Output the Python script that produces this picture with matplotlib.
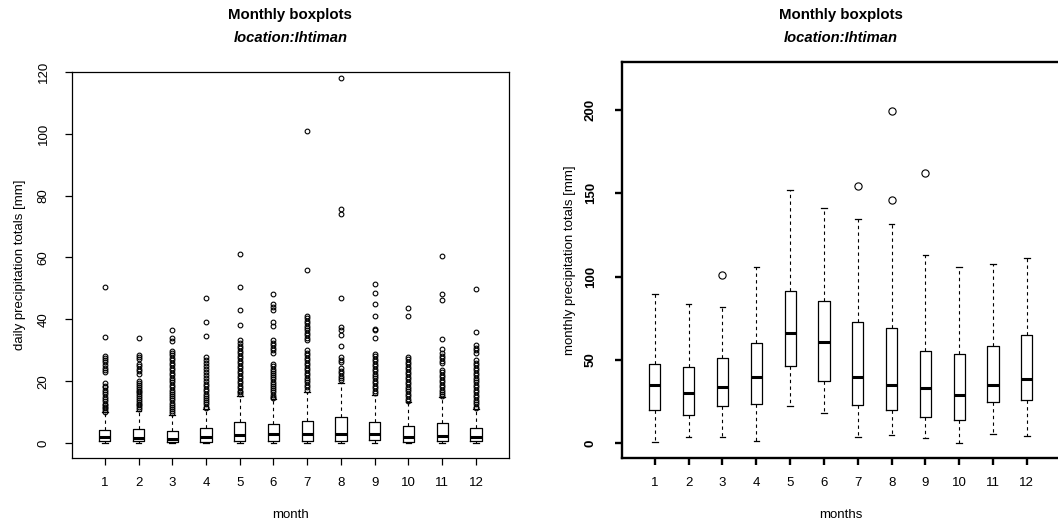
import matplotlib.pyplot as plt

plt.rcParams['font.family'] = ['Liberation Sans', 'DejaVu Sans']

months = list(range(1, 13))

# daily precipitation totals [mm], box statistics per month
daily_q1 = [0.6, 0.6, 0.5, 0.5, 0.8, 0.6, 0.8, 0.8, 0.9, 0.5, 0.6, 0.6]
daily_med = [2.0, 1.7, 1.5, 2.0, 2.6, 2.8, 3.0, 3.1, 2.8, 2.0, 2.4, 2.0]
daily_q3 = [4.4, 4.6, 4.0, 4.8, 6.7, 6.1, 7.2, 8.5, 6.9, 5.7, 6.5, 4.9]
daily_lo = [0.1] * 12
daily_hi = [10.0, 10.5, 9.2, 11.0, 15.3, 14.2, 16.6, 19.3, 15.5, 13.3, 15.0, 11.1]
daily_out = [
    [50.6, 34.3, 28.1, 27.5, 27.0, 26.2, 25.2, 24.4, 23.5, 23.0, 19.3, 18.6,
     18.0, 17.3, 16.5, 15.8, 15.0, 14.2, 13.5, 12.8, 12.3, 11.7, 11.2, 10.7, 10.2],
    [34.1, 28.4, 27.8, 27.2, 25.6, 25.0, 24.1, 23.3, 22.4, 20.0, 19.4, 18.8,
     18.2, 17.6, 17.0, 16.4, 15.8, 15.2, 14.6, 14.0, 13.4, 12.8, 12.2, 11.6, 11.0],
    [36.6, 34.0, 33.0, 29.9, 29.2, 28.5, 27.6, 26.8, 26.0, 25.2, 24.4, 23.6,
     22.8, 22.0, 21.2, 20.4, 19.6, 18.8, 18.0, 17.3, 16.6, 15.9, 15.2, 14.5,
     13.8, 13.1, 12.4, 11.7, 11.0, 10.4, 9.8],
    [47.0, 39.1, 34.5, 27.7, 27.0, 25.8, 24.8, 24.0, 23.0, 22.0, 21.0, 20.0,
     19.2, 18.4, 17.6, 16.8, 16.0, 15.3, 14.6, 13.9, 13.2, 12.5, 11.8, 11.4],
    [61.0, 50.5, 42.9, 38.1, 33.3, 32.5, 31.5, 30.6, 29.8, 29.0, 28.2, 27.4,
     26.6, 25.8, 25.0, 24.2, 23.4, 22.6, 21.8, 21.0, 20.2, 19.4, 18.6, 17.8,
     17.0, 16.4, 15.8],
    [48.1, 44.8, 44.0, 42.9, 39.1, 37.8, 33.2, 32.4, 31.6, 30.8, 30.0, 29.2,
     25.5, 24.8, 24.1, 23.4, 22.7, 22.0, 21.3, 20.6, 19.9, 19.2, 18.5, 17.8,
     17.1, 16.4, 15.7, 15.0, 14.5],
    [101.0, 56.0, 41.2, 40.4, 39.6, 38.8, 38.0, 37.2, 36.4, 35.6, 34.8, 34.0,
     33.2, 30.0, 29.2, 28.4, 27.6, 26.8, 26.0, 25.2, 24.4, 23.6, 22.8, 22.0,
     21.2, 20.4, 19.6, 18.8, 18.0, 17.2],
    [118.1, 75.5, 74.1, 47.0, 37.5, 36.4, 35.0, 31.3, 27.8, 27.0, 26.2, 24.2,
     23.4, 22.6, 21.8, 21.0, 20.4],
    [51.5, 48.5, 45.1, 41.1, 37.0, 36.4, 34.1, 28.9, 28.1, 27.3, 26.5, 25.7,
     24.9, 24.1, 23.3, 22.5, 21.7, 20.9, 20.1, 19.3, 18.5, 17.7, 16.9, 16.2],
    [43.7, 41.2, 27.8, 27.1, 26.3, 25.5, 24.7, 23.9, 23.1, 22.3, 21.5, 20.7,
     19.9, 19.1, 18.3, 17.5, 16.7, 15.9, 15.1, 14.4, 13.7],
    [60.6, 48.1, 46.4, 33.8, 30.5, 29.0, 28.2, 27.4, 26.6, 25.8, 23.7, 22.9,
     22.1, 21.3, 20.5, 19.7, 18.9, 18.1, 17.3, 16.5, 15.8, 15.2],
    [49.9, 35.9, 31.6, 30.8, 30.0, 29.2, 26.8, 26.0, 25.2, 24.4, 23.6, 22.8,
     22.0, 21.2, 20.4, 19.6, 18.8, 18.0, 17.2, 16.4, 15.6, 14.8, 14.0, 13.2,
     12.5, 11.8, 11.2],
]

# monthly precipitation totals [mm], box statistics per month
monthly_q1 = [19.7, 17.1, 22.2, 23.4, 46.5, 37.5, 23.1, 20.1, 15.6, 13.6, 24.5, 25.8]
monthly_med = [35.1, 30.1, 33.7, 39.5, 66.3, 60.7, 39.7, 35.1, 33.1, 28.7, 35.1, 38.3]
monthly_q3 = [47.7, 45.7, 51.1, 60.1, 91.4, 85.2, 72.7, 69.3, 55.3, 53.3, 58.3, 64.7]
monthly_lo = [0.6, 3.6, 3.8, 1.0, 22.2, 18.3, 3.8, 4.6, 3.0, 0.0, 5.6, 4.0]
monthly_hi = [89.4, 83.8, 81.5, 105.8, 152.3, 141.5, 134.6, 131.8, 112.8, 105.8, 107.8, 111.4]
monthly_out = [[], [], [101.2], [], [], [], [154.3], [199.8, 145.9], [162.3], [], [], []]


def box_stats(q1, med, q3, lo, hi, out):
    return [dict(q1=a, med=b, q3=c, whislo=d, whishi=e, fliers=f)
            for a, b, c, d, e, f in zip(q1, med, q3, lo, hi, out)]


W, H = 1058, 523
fig = plt.figure(figsize=(W / 100, H / 100), dpi=100)
ax1 = fig.add_axes([71.7 / W, 1 - 457.7 / H, (509 - 71.7) / W, (457.7 - 71.7) / H])
ax2 = fig.add_axes([621.7 / W, 1 - 457.7 / H, (1060 - 621.7) / W, (457.7 - 62.3) / H])


def draw(ax, stats, msize, spine_w, ypad):
    ax.bxp(stats, positions=months, widths=0.33, capwidths=0.165,
           manage_ticks=False,
           boxprops=dict(color='black', linewidth=0.9),
           medianprops=dict(color='black', linewidth=2.2, solid_capstyle='butt'),
           whiskerprops=dict(color='black', linewidth=0.8, linestyle=(0, (3, 3))),
           capprops=dict(color='black', linewidth=0.9),
           flierprops=dict(marker='o', markerfacecolor='none',
                           markeredgecolor='black', markersize=msize,
                           markeredgewidth=0.8))
    ax.set_xlim(0.02, 12.98)
    ax.set_xticks(months)
    for s in ax.spines.values():
        s.set_linewidth(spine_w)
    ax.tick_params(direction='out', length=5, width=spine_w, labelsize=9.5,
                   colors='black')
    ax.tick_params(axis='x', pad=9)
    ax.tick_params(axis='y', labelrotation=90, pad=ypad)
    for lab in ax.get_yticklabels():
        lab.set_verticalalignment('center')


draw(ax1, box_stats(daily_q1, daily_med, daily_q3, daily_lo, daily_hi, daily_out), 3.4, 0.9, 11)
ax1.set_ylim(-4.7, 120)
ax1.set_yticks(range(0, 121, 20))
ax1.set_xlabel('month', fontsize=9.5, labelpad=14)
ax1.set_ylabel('daily precipitation totals [mm]', fontsize=9.5, labelpad=8)

draw(ax2, box_stats(monthly_q1, monthly_med, monthly_q3, monthly_lo, monthly_hi, monthly_out), 5.2, 1.7, 13)
ax2.set_ylim(-8.8, 228.8)
ax2.set_yticks(range(0, 201, 50))
for lab in ax2.get_yticklabels():
    lab.set_fontweight('bold')
ax2.spines['right'].set_visible(False)
ax2.set_xlabel('months', fontsize=9.5, labelpad=14)
ax2.set_ylabel('monthly precipitation totals [mm]', fontsize=9.5, labelpad=6)

# titles centred over each panel
for cx in ((71.7 + 509) / 2, (621.7 + 1060) / 2):
    fig.text(cx / W, 1 - 15 / H, 'Monthly boxplots', ha='center', va='center',
             fontsize=10.8, fontweight='bold')
    fig.text(cx / W, 1 - 38 / H, 'location:Ihtiman', ha='center', va='center',
             fontsize=10.6, fontweight='bold', fontstyle='italic')

fig.savefig('out.png', dpi=100)
